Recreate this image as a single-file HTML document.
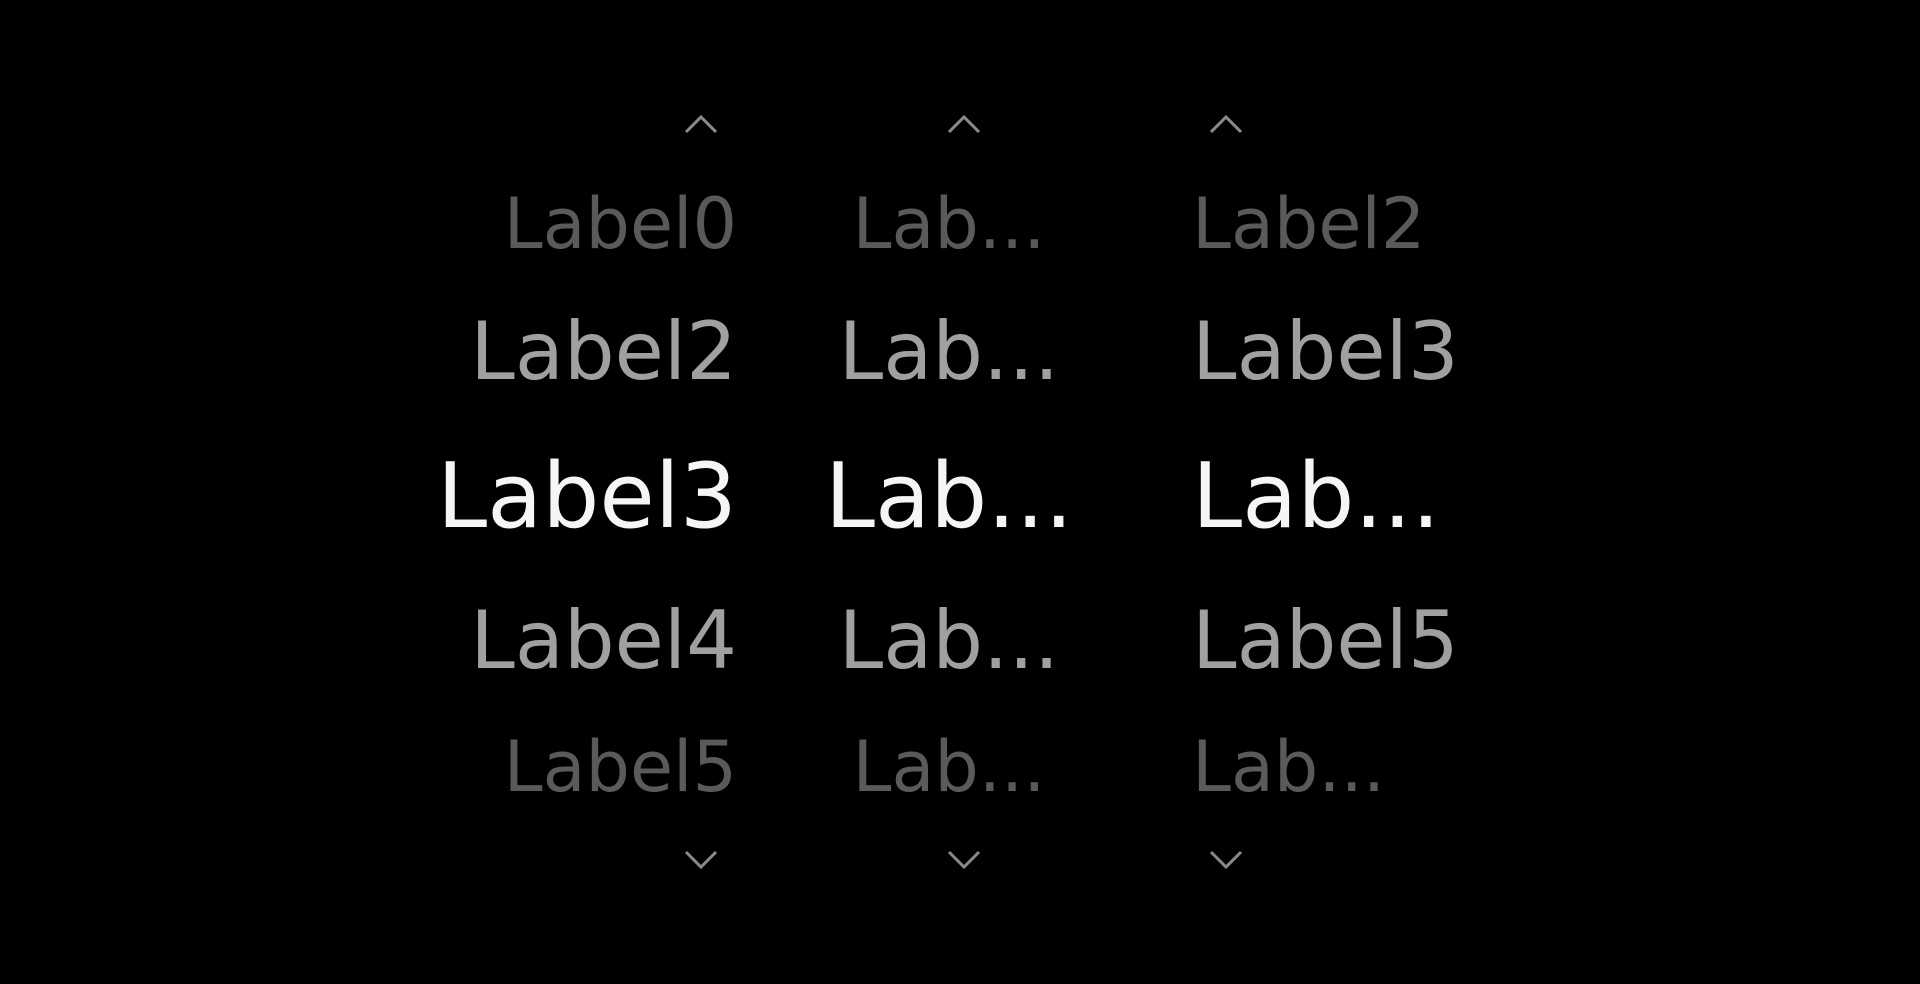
<!DOCTYPE html>
<html><head><meta charset="utf-8"><style>
html,body{margin:0;padding:0;background:#000;width:1920px;height:984px;overflow:hidden}
text{font-family:"DejaVu Sans","Liberation Sans",sans-serif}
</style></head><body>
<svg width="1920" height="984" xmlns="http://www.w3.org/2000/svg">
<g fill="none" stroke="#8a8a8a" stroke-width="3">
<polyline points="686,132 701,117 716,132"/>
<polyline points="949,132 964,117 979,132"/>
<polyline points="1211,132 1226,117 1241,132"/>
<polyline points="686,852 701,867 716,852"/>
<polyline points="949,852 964,867 979,852"/>
<polyline points="1211,852 1226,867 1241,852"/>
</g>
<g font-size="70" fill="#5a5a5a">
<text x="737" y="248" text-anchor="end">Label0</text>
<text x="949" y="248" text-anchor="middle">Lab...</text>
<text x="1192" y="248">Label2</text>
<text x="737" y="791" text-anchor="end">Label5</text>
<text x="949" y="791" text-anchor="middle">Lab...</text>
<text x="1192" y="791">Lab...</text>
</g>
<g font-size="80" fill="#a0a0a0">
<text x="737" y="379" text-anchor="end">Label2</text>
<text x="949" y="379" text-anchor="middle">Lab...</text>
<text x="1192" y="379">Label3</text>
<text x="737" y="668" text-anchor="end">Label4</text>
<text x="949" y="668" text-anchor="middle">Lab...</text>
<text x="1192" y="668">Label5</text>
</g>
<g font-size="90" fill="#f5f5f5">
<text x="737" y="527" text-anchor="end">Label3</text>
<text x="949" y="527" text-anchor="middle">Lab...</text>
<text x="1192" y="527">Lab...</text>
</g>
</svg>
</body></html>
